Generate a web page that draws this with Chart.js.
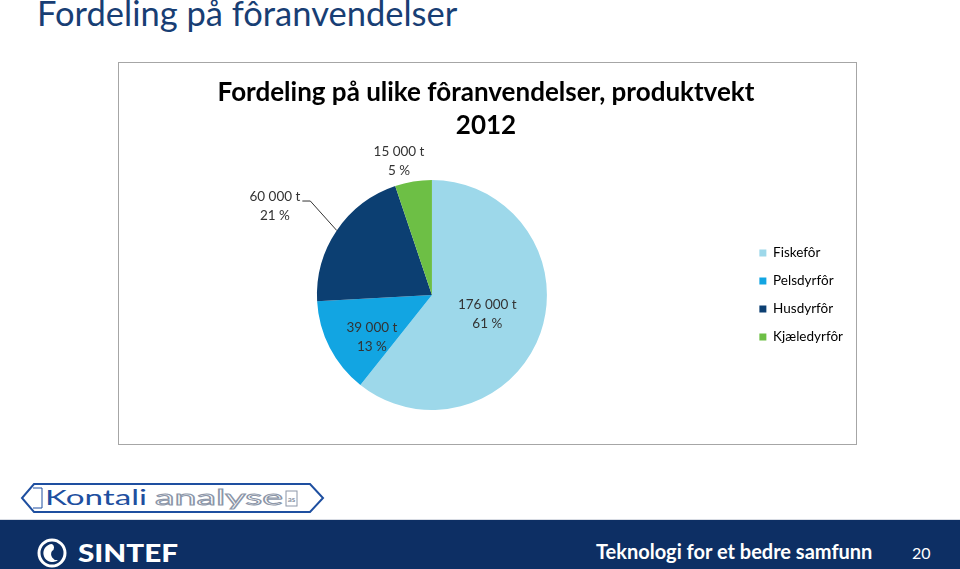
<!DOCTYPE html>
<html>
<head>
<meta charset="utf-8">
<script src="https://cdn.jsdelivr.net/npm/chart.js@4.4.0/dist/chart.umd.min.js"></script>
<style>
    body { margin: 0; width: 960px; height: 569px; position: relative; overflow: hidden; background: #fff; font-family: Lato, sans-serif; }
    #slideTitle { position: absolute; left: 37px; top: -8px; font-size: 34.5px; color: #183E74; white-space: nowrap; }
    #box { position: absolute; left: 118px; top: 62px; width: 737px; height: 381px; border: 1px solid #A6A6A6; }
    #box canvas { display: block; }
    #kontali { position: absolute; left: 20px; top: 482px; }
    #footer { position: absolute; left: 0; top: 519px; width: 960px; height: 50px; background: #0D2F64; border-top: 1px solid #D8DCE4; }
    #sintef { position: absolute; left: 37px; top: 18px; }
    #tagline { position: absolute; left: 596px; top: 19px; color: #fff; font-weight: bold; font-size: 20px; white-space: nowrap; }
    #pageNo { position: absolute; left: 912px; top: 23px; color: #fff; font-size: 16px; }
</style>
</head>
<body>
<div id="slideTitle">Fordeling på fôranvendelser</div>
<div id="box"><canvas id="chart" width="737" height="381"></canvas></div>

<svg id="kontali" width="306" height="32" viewBox="0 0 306 32">
    <polygon points="14,2 290,2 303,16 290,30 14,30 2,16" fill="none" stroke="#1E4FA0" stroke-width="2"/>
    <polyline points="13,6 22,6 22,26 13,26" fill="none" stroke="#1E4FA0" stroke-width="1"/>
    <text x="25" y="23" font-family="Lato, sans-serif" font-size="22" fill="#1E4FA0" textLength="102" lengthAdjust="spacingAndGlyphs">Kontali</text>
    <text x="135" y="23" font-family="Lato, sans-serif" font-size="22" fill="#fff" stroke="#8C96A8" stroke-width="1" textLength="128" lengthAdjust="spacingAndGlyphs">analyse</text>
    <rect x="266" y="9" width="11" height="15" fill="none" stroke="#8C96A8" stroke-width="1"/>
    <text x="271.5" y="20" font-family="Lato, sans-serif" font-size="8" font-weight="bold" fill="#8C96A8" text-anchor="middle">as</text>
</svg>

<div id="footer">
    <svg id="sintef" width="150" height="32" viewBox="0 0 150 32">
        <circle cx="15" cy="15" r="13" fill="none" stroke="#fff" stroke-width="3"/>
        <path d="M15 6 a9 9 0 1 0 6 16 a6 6 0 0 1 -6 -9 a4 4 0 0 0 0 -7z" fill="#fff"/>
        <text x="41" y="24" font-family="Lato, sans-serif" font-size="25" font-weight="900" fill="#fff" textLength="100" lengthAdjust="spacingAndGlyphs">SINTEF</text>
    </svg>
    <div id="tagline">Teknologi for et bedre samfunn</div>
    <div id="pageNo">20</div>
</div>

<script>
// Fordeling på ulike fôranvendelser, produktvekt 2012 (tonn)
const categories = ['Fiskefôr', 'Pelsdyrfôr', 'Husdyrfôr', 'Kjæledyrfôr'];
const tonnes = [176000, 39000, 60000, 15000];
const colors = ['#9DD8EA', '#12A5E2', '#0C3F72', '#6DBF45'];

// where each data label sits: fraction of radius, small turn in degrees, leader line
const labelDist = [0.51, 0.64, 1.57, 1.2];
const labelTurn = [0, -8, -4.6, -4.5];
const labelLeader = [false, false, true, false];

function fmtTonnes(v) {
    return String(v).replace(/\B(?=(\d{3})+(?!\d))/g, ' ') + ' t';
}

const sliceLabels = {
    id: 'sliceLabels',
    afterDatasetsDraw(chart) {
        const ctx = chart.ctx;
        const total = tonnes.reduce((a, b) => a + b, 0);
        const meta = chart.getDatasetMeta(0);
        ctx.save();
        ctx.font = '13.5px Lato, sans-serif';
        ctx.fillStyle = '#333';
        ctx.textAlign = 'center';
        ctx.textBaseline = 'middle';
        meta.data.forEach((arc, i) => {
            const p = arc.getProps(['x', 'y', 'startAngle', 'endAngle', 'outerRadius'], true);
            const mid = (p.startAngle + p.endAngle) / 2;
            const a = mid + labelTurn[i] * Math.PI / 180;
            const r = p.outerRadius * labelDist[i];
            const lx = p.x + Math.cos(a) * r;
            const ly = p.y + Math.sin(a) * r;
            const line1 = fmtTonnes(tonnes[i]);
            const line2 = Math.round(tonnes[i] / total * 100) + ' %';
            ctx.fillText(line1, lx, ly - 9.5);
            ctx.fillText(line2, lx, ly + 9.5);
            if (labelLeader[i]) {
                const w = ctx.measureText(line1).width;
                const ex = p.x + Math.cos(mid) * p.outerRadius;
                const ey = p.y + Math.sin(mid) * p.outerRadius;
                const right = lx + w / 2;
                ctx.strokeStyle = '#333';
                ctx.lineWidth = 1;
                ctx.beginPath();
                ctx.moveTo(ex, ey);
                ctx.lineTo(right + 10, ly - 5);
                ctx.lineTo(right + 2, ly - 5);
                ctx.stroke();
            }
        });
        ctx.restore();
    }
};

new Chart(document.querySelector('#chart').getContext('2d'), {
    type: 'pie',
    data: {
        labels: categories,
        datasets: [{
            data: tonnes,
            backgroundColor: colors,
            borderWidth: 0
        }]
    },
    options: {
        responsive: false,
        animation: false,
        layout: { padding: { top: 13.5, bottom: 34, left: 0, right: 3 } },
        plugins: {
            title: {
                display: true,
                text: ['Fordeling på ulike fôranvendelser, produktvekt', '2012'],
                color: '#000',
                font: { family: 'Lato, sans-serif', size: 26, weight: 'bold', lineHeight: 1.27 },
                padding: { top: 0, bottom: 37.5 }
            },
            legend: {
                position: 'right',
                fullSize: false,
                labels: {
                    color: '#000',
                    font: { family: 'Lato, sans-serif', size: 13.5 },
                    boxWidth: 7,
                    boxHeight: 7,
                    padding: 14.5
                }
            },
            tooltip: { enabled: false }
        }
    },
    plugins: [sliceLabels]
});
</script>
</body>
</html>
